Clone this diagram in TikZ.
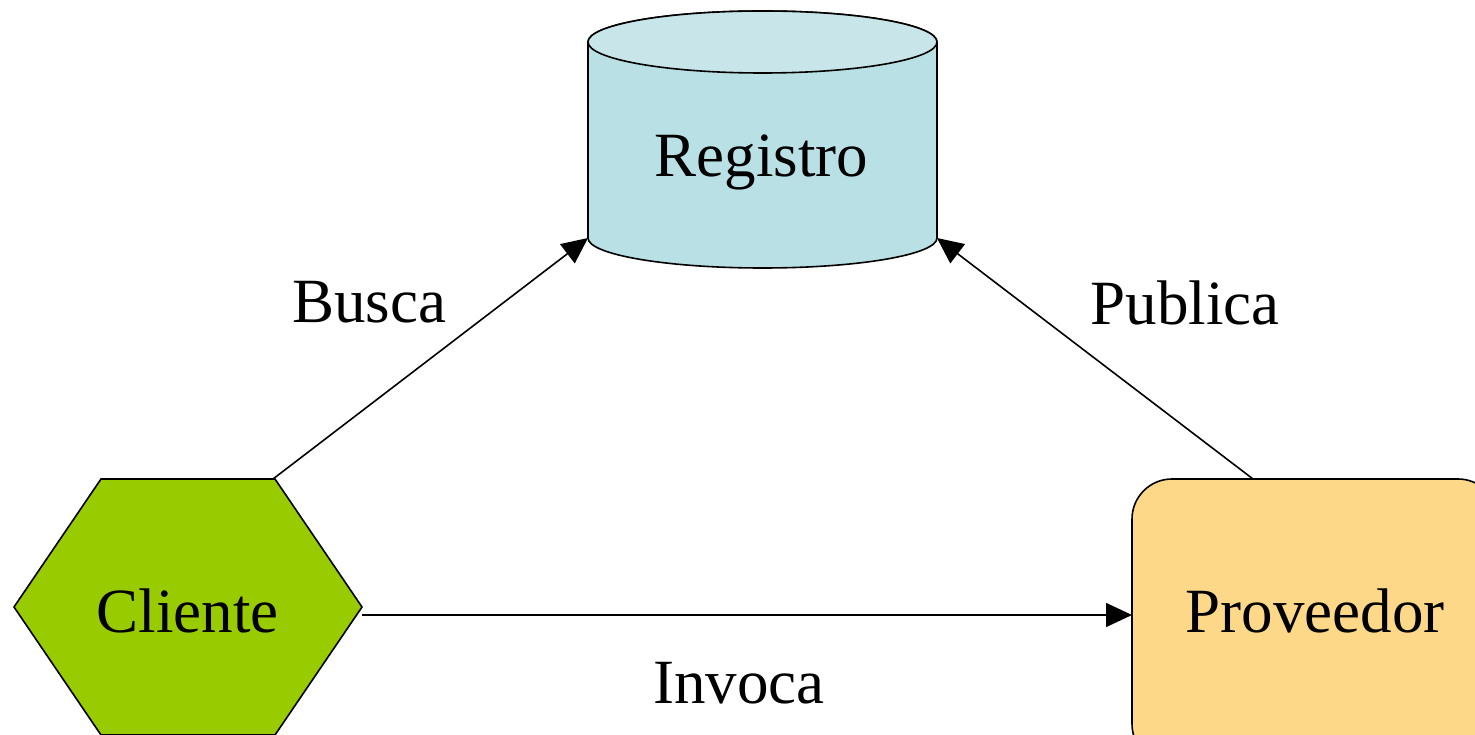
\documentclass[tikz,border=0pt]{standalone}
\usepackage{fontspec}
\setmainfont{Liberation Serif}
\usetikzlibrary{arrows.meta}
\definecolor{cligreen}{RGB}{153,204,0}
\definecolor{provfill}{RGB}{254,216,137}
\definecolor{regbody}{RGB}{185,224,228}
\definecolor{regtop}{RGB}{200,230,233}
\tikzset{
  shapeline/.style={draw=black, line width=1.6pt},
  conn/.style={draw=black, line width=1.6pt, -{Triangle[length=26pt,width=24pt]}},
  lbl/.style={anchor=base, inner sep=0pt, font=\fontsize{63}{70}\selectfont},
}
\begin{document}
\begin{tikzpicture}[x=1pt,y=1pt]
\useasboundingbox (0,0) rectangle (1475,734);
\clip (0,0) rectangle (1475,734);
% Registro cylinder
\path[shapeline, fill=regbody] (588,692) -- (588,496)
  arc[start angle=180, end angle=360, x radius=174.5, y radius=30]
  -- (937,692)
  arc[start angle=0, end angle=180, x radius=174.5, y radius=31] -- cycle;
\path[shapeline, fill=regtop] (762.5,692) ellipse[x radius=174.5, y radius=31];
% Cliente hexagon
\path[shapeline, fill=cligreen] (101,255) -- (275,255) -- (362,127) -- (275,-1) -- (101,-1) -- (14,127) -- cycle;
% Proveedor rounded box
\path[shapeline, fill=provfill, rounded corners=40pt] (1132,-30) rectangle (1498,255);
% texts
\node[lbl] (reg) at (761.5,557) {Registro};
\node[lbl] (cli) at (187.5,102) {Cliente};
\node[lbl] (prov) at (1315,102) {Proveedor};
\node[lbl] (busca) at (369,411) {Busca};
\node[lbl] (publica) at (1185,409) {Publica};
\node[lbl] (invoca) at (739,31) {Invoca};
% connector end points
\coordinate (cliTop) at (273,255);
\coordinate (cliRight) at (362,119);
\coordinate (regLeft) at (588,496);
\coordinate (regRight) at (937,496);
\coordinate (provTop) at (1253,255);
\coordinate (provLeft) at (1132,119);
\draw[conn] (cliTop) -- (regLeft);
\draw[conn] (provTop) -- (regRight);
\draw[conn] (cliRight) -- (provLeft);
\end{tikzpicture}
\end{document}
